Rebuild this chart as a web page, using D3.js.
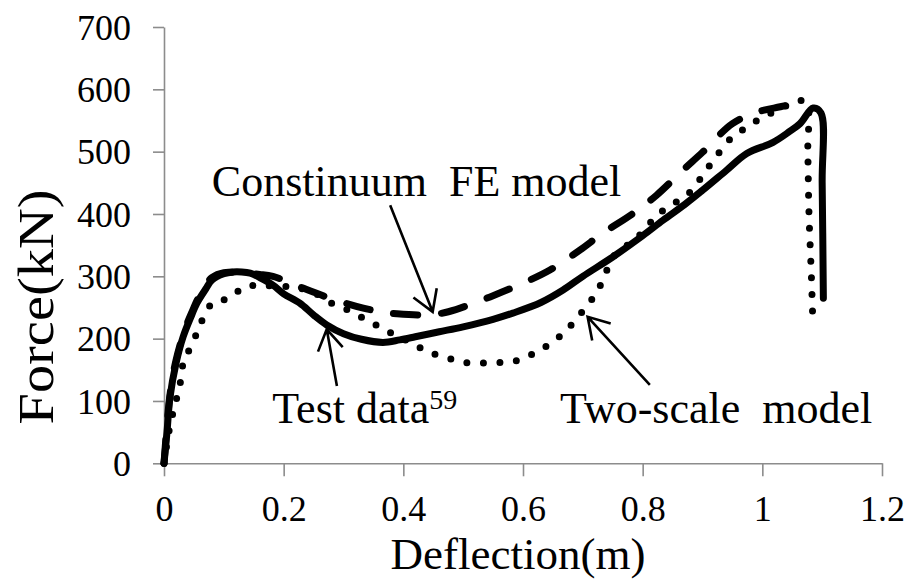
<!DOCTYPE html>
<html><head><meta charset="utf-8">
<script src="https://cdn.jsdelivr.net/npm/d3@7"></script>
<style>
html,body{margin:0;padding:0;background:#fff;}
svg{display:block;}
text{font-family:"Liberation Serif","Times New Roman",serif;fill:#000;}
</style></head>
<body>
<svg id="chart" width="912" height="586"></svg>
<script>
// ---- data ----
const xTicks = [0, 0.2, 0.4, 0.6, 0.8, 1, 1.2];
const xTickLabels = ["0", "0.2", "0.4", "0.6", "0.8", "1", "1.2"];
const yTicks = [0, 100, 200, 300, 400, 500, 600, 700];
const yTickLabels = ["0", "100", "200", "300", "400", "500", "600", "700"];

const testDefl = [0,0.005,0.01,0.02,0.032,0.045,0.055,0.07,0.08,0.1,0.115,0.13,0.144,0.16,0.182,0.2,0.227,0.25,0.272,0.3,0.33,0.366,0.394,0.42,0.46,0.5,0.55,0.583,0.63,0.667,0.7,0.75,0.8,0.834,0.87,0.9,0.94,0.974,1.018,1.045,1.063,1.085,1.098,1.1,1.102];
const testForce = [0,50,106,160,203,235,257,280,294,304,307,307,305,298,286,272,257,238,222,208,199,194,198,203,211,219,231,241,258,278,300,331,365,390,415,438,470,497,515,532,545,570,562,450,265];

const feDefl = [0,0.01,0.02,0.035,0.05,0.065,0.08,0.1,0.13,0.16,0.182,0.227,0.277,0.333,0.37,0.389,0.445,0.47,0.495,0.545,0.6,0.645,0.695,0.733,0.784,0.823,0.867,0.9,0.95,0.99,1.03,1.06];
const feForce = [0,110,165,215,250,280,298,306,305,303,300,283,265,249,242,240,238,242,249,267,289,310,342,369,401,430,470,499,545,563,572,578];

const tsDefl = [0,0.01,0.02,0.027,0.032,0.043,0.055,0.065,0.082,0.11,0.134,0.162,0.2,0.227,0.252,0.28,0.307,0.333,0.36,0.386,0.416,0.441,0.47,0.5,0.533,0.565,0.595,0.623,0.65,0.673,0.692,0.712,0.728,0.754,0.782,0.8,0.824,0.849,0.876,0.912,0.949,0.974,1.0,1.033,1.06,1.074,1.076,1.078,1.082,1.084];
const tsForce = [0,60,100,128,160,184,209,232,258,265,283,285,284,281,273,257,246,233,219,206,192,179,170,162,161,162,166,179,195,214,235,259,283,335,355,371,398,415,432,478,523,539,555,570,582,578,500,400,300,240];

// annotations (data coordinates)
const labelTexts = ["Constinuum\u00a0 FE model", "Test data", "Two-scale\u00a0 model"];
const labelX = [0.08, 0.181, 0.662];
const labelY = [429, 65, 65];
const arrowFromX = [0.378, 0.289, 0.812];
const arrowFromY = [414, 124, 126];
const arrowToX = [0.449, 0.272, 0.708];
const arrowToY = [243, 215, 235];

// ---- layout ----
const svg = d3.select("#chart");
const x = d3.scaleLinear().domain([0, 1.2]).range([164, 882]);
const y = d3.scaleLinear().domain([0, 700]).range([463.3, 27]);
const axisColor = "#8c8c8c";

// axes
const gx = svg.append("g").attr("transform", `translate(0,${y(0)})`)
  .call(d3.axisBottom(x).tickValues(xTicks).tickFormat((d,i)=>xTickLabels[i]).tickSize(13).tickPadding(20).tickSizeOuter(0));
const gy = svg.append("g").attr("transform", `translate(${x(0)},0)`)
  .call(d3.axisLeft(y).tickValues(yTicks).tickFormat((d,i)=>yTickLabels[i]).tickSize(11).tickPadding(22).tickSizeOuter(0));
[gx, gy].forEach(g => {
  g.attr("font-family", null);
  g.selectAll("path.domain").attr("stroke", axisColor).attr("stroke-width", 1.6);
  g.selectAll(".tick line").attr("stroke", axisColor).attr("stroke-width", 1.6);
  g.selectAll(".tick text").attr("font-size", 36).attr("fill", "#000");
});
gy.selectAll(".tick text").attr("dy", "0.34em");
gx.selectAll(".tick text").attr("dy", "0.7em");

// titles
svg.append("text").attr("x", 518).attr("y", 569).attr("text-anchor", "middle")
  .attr("font-size", 45).text("Deflection(m)");
svg.append("text").attr("transform", "translate(53,307) rotate(-90)").attr("text-anchor", "middle")
  .attr("font-size", 50).attr("textLength", 235).attr("lengthAdjust", "spacingAndGlyphs").text("Force(kN)");

// curves
const line = d3.line().x(d => x(d[0])).y(d => y(d[1])).curve(d3.curveCatmullRom.alpha(0.5));
const mk = (a, b) => a.map((v, i) => [v, b[i]]);

svg.append("path").datum(mk(tsDefl, tsForce)).attr("d", line)
  .attr("fill", "none").attr("stroke", "#000").attr("stroke-width", 7)
  .attr("stroke-linecap", "round").attr("stroke-dasharray", "0,16.5");
svg.append("path").datum(mk(feDefl, feForce)).attr("d", line)
  .attr("fill", "none").attr("stroke", "#000").attr("stroke-width", 7)
  .attr("stroke-linecap", "round").attr("stroke-dasharray", "24,24");
svg.append("path").datum(mk(testDefl, testForce)).attr("d", line)
  .attr("fill", "none").attr("stroke", "#000").attr("stroke-width", 7)
  .attr("stroke-linejoin", "round").attr("stroke-linecap", "round");

// annotation labels
labelTexts.forEach((t, i) => {
  const tx = svg.append("text").attr("x", x(labelX[i])).attr("y", y(labelY[i]))
    .attr("font-size", 44).text(t);
  if (i === 1) {
    tx.append("tspan").attr("font-size", 28).attr("dy", -14).text("59");
  }
});

// arrows
arrowFromX.forEach((fx, i) => {
  const x1 = x(fx), y1 = y(arrowFromY[i]), x2 = x(arrowToX[i]), y2 = y(arrowToY[i]);
  const ang = Math.atan2(y2 - y1, x2 - x1);
  const L = 24, spread = 0.55;
  const a1 = [x2 - L * Math.cos(ang - spread), y2 - L * Math.sin(ang - spread)];
  const a2 = [x2 - L * Math.cos(ang + spread), y2 - L * Math.sin(ang + spread)];
  const p = d3.path();
  p.moveTo(x1, y1); p.lineTo(x2, y2);
  p.moveTo(a1[0], a1[1]); p.lineTo(x2, y2); p.lineTo(a2[0], a2[1]);
  svg.append("path").attr("d", p.toString()).attr("fill", "none")
    .attr("stroke", "#000").attr("stroke-width", 2.6).attr("stroke-linejoin", "miter");
});
</script>
</body></html>
